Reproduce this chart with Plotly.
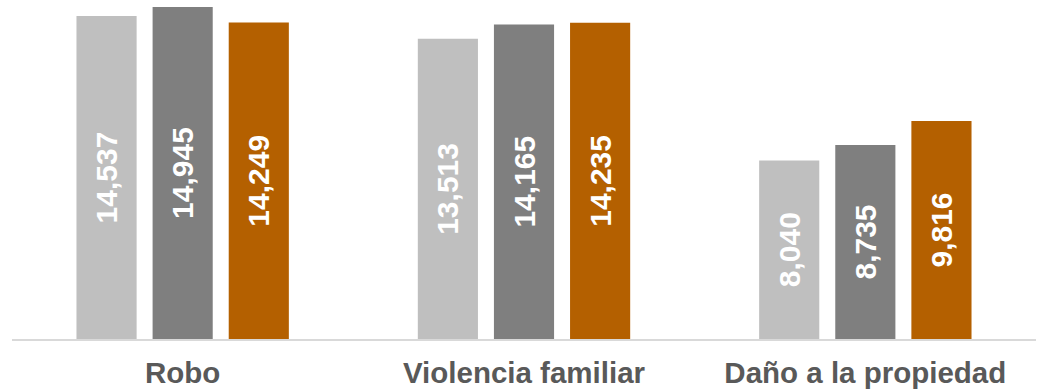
import plotly.graph_objects as go

# Categories and yearly series
categories = ["Robo", "Violencia familiar", "Daño a la propiedad"]
serie_1 = [14537, 13513, 8040]
serie_2 = [14945, 14165, 8735]
serie_3 = [14249, 14235, 9816]

colors = ["#BFBFBF", "#7F7F7F", "#B46000"]
series = [serie_1, serie_2, serie_3]

fig = go.Figure()
for vals, col in zip(series, colors):
    fig.add_trace(go.Bar(
        x=categories,
        y=vals,
        marker=dict(color=col, line=dict(width=0)),
        text=[f"{v:,}" for v in vals],
        textposition="inside",
        insidetextanchor="middle",
        textangle=-90,
        textfont=dict(family="Liberation Sans, Arial, sans-serif", size=30, color="white", weight="bold"),
        constraintext="none",
        cliponaxis=False,
        hoverinfo="skip",
    ))

fig.update_layout(
    width=1038,
    height=391,
    margin=dict(l=12, r=2, t=0, b=52),
    paper_bgcolor="white",
    plot_bgcolor="white",
    barmode="group",
    bargap=0.331,
    bargroupgap=0.21,
    showlegend=False,
    uniformtext=dict(mode=False),
    xaxis=dict(
        showgrid=False,
        showline=True,
        linecolor="#D9D9D9",
        linewidth=2,
        ticks="",
        tickfont=dict(family="Liberation Sans, Arial, sans-serif", size=29.5, color="#595959", weight="bold"),
        ticklabelstandoff=7,
    ),
    yaxis=dict(
        visible=False,
        range=[0, 15263],
        showgrid=False,
        zeroline=False,
    ),
)

fig.write_html("out.html")
